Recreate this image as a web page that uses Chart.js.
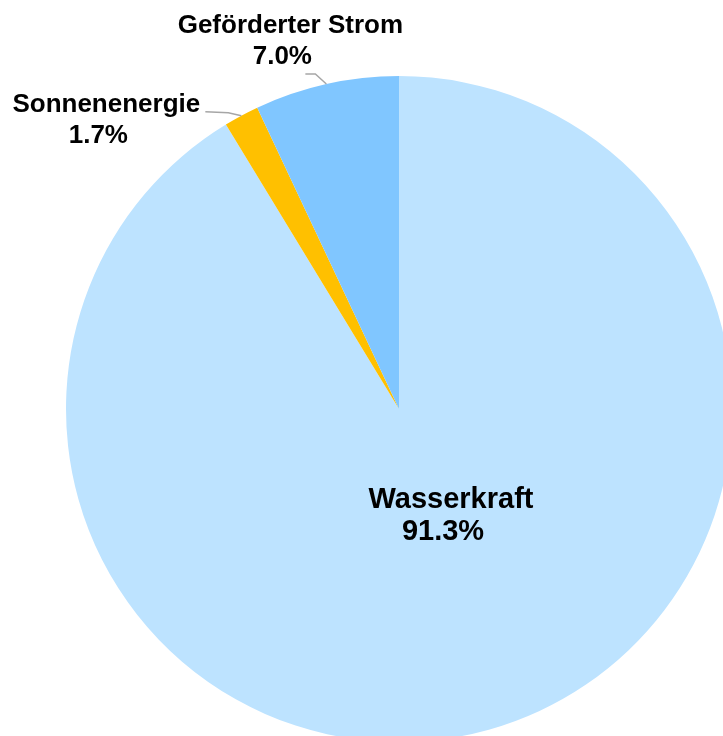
<!DOCTYPE html>
<html>
<head>
<meta charset="utf-8">
<script src="https://cdn.jsdelivr.net/npm/chart.js@4"></script>
<style>
  html, body { margin: 0; padding: 0; background: #fff; overflow: hidden; }
  #wrap { position: relative; width: 723px; height: 736px; overflow: hidden; }
  #wrap canvas { position: absolute; left: 0; top: 0; }
</style>
</head>
<body>
<div id="wrap"><canvas id="pieChart" width="798" height="818" style="width:798px;height:818px"></canvas></div>
<script>
"use strict";

/* data */
var categories = ['Wasserkraft', 'Sonnenenergie', 'Geförderter Strom'];
var shares     = [91.3, 1.7, 7.0];
var colours    = ['#bde3ff', '#ffc000', '#80c6ff'];

/* label placement, offsets in px: inside labels from pie centre, outside labels from slice edge midpoint */
var labelLayout = [
  { inside: true,  size: 29, lines: [[52, 99], [44, 131]] },
  { inside: false, size: 26, lines: [[-135, -4], [-143, 27]], leader: [[-13, -3], [-36, -4]] },
  { inside: false, size: 26, lines: [[-36, -51], [-44, -20]], leader: [[-11, -10], [-21, -10]] }
];

var pieLabels = {
  id: 'pieLabels',
  afterDatasetsDraw: function(chart) {
    var ctx = chart.ctx;
    var arcs = chart.getDatasetMeta(0).data;
    ctx.save();
    arcs.forEach(function(arc, i) {
      var p = arc.getProps(['x', 'y', 'startAngle', 'endAngle', 'outerRadius'], true);
      var lay = labelLayout[i];
      var ox, oy;
      if (lay.inside) {
        ox = p.x; oy = p.y;
      } else {
        var mid = (p.startAngle + p.endAngle) / 2;
        ox = p.x + Math.cos(mid) * p.outerRadius;
        oy = p.y + Math.sin(mid) * p.outerRadius;
        ctx.strokeStyle = '#a6a6a6';
        ctx.lineWidth = 1.5;
        ctx.beginPath();
        ctx.moveTo(ox, oy);
        lay.leader.forEach(function(pt) { ctx.lineTo(ox + pt[0], oy + pt[1]); });
        ctx.stroke();
      }
      var texts = [categories[i], shares[i].toFixed(1) + '%'];
      ctx.fillStyle = '#000';
      ctx.font = 'bold ' + lay.size + 'px "Liberation Sans", Arial, sans-serif';
      ctx.textAlign = 'center';
      ctx.textBaseline = 'alphabetic';
      texts.forEach(function(t, k) {
        ctx.fillText(t, ox + lay.lines[k][0], oy + lay.lines[k][1]);
      });
    });
    ctx.restore();
  }
};

new Chart(document.getElementById('pieChart'), {
  type: 'pie',
  data: {
    labels: categories,
    datasets: [{
      data: shares,
      backgroundColor: colours,
      borderWidth: 0
    }]
  },
  options: {
    responsive: false,
    animation: false,
    layout: { padding: { left: 66, right: 66, top: 76, bottom: 76 } },
    plugins: { legend: { display: false }, tooltip: { enabled: false } }
  },
  plugins: [pieLabels]
});
</script>
</body>
</html>
